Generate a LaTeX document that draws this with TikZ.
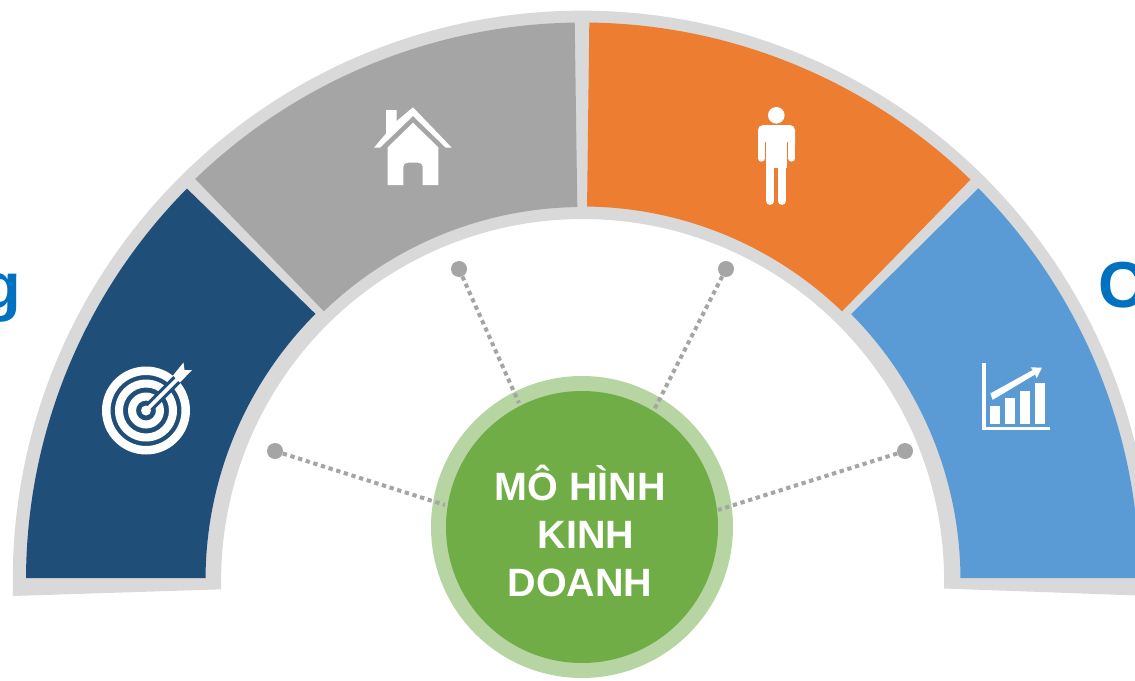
\documentclass[tikz,border=0pt]{standalone}
\usepackage{fontspec}
\setmainfont{Liberation Sans}
\usetikzlibrary{calc}
\definecolor{ringgrey}{HTML}{D9D9D9}
\definecolor{navy}{HTML}{1F4E79}
\definecolor{midgrey}{HTML}{A5A5A5}
\definecolor{orangeseg}{HTML}{ED7D31}
\definecolor{skyseg}{HTML}{5B9BD5}
\definecolor{hubgreen}{HTML}{70AD47}
\definecolor{hubring}{HTML}{B7D5A3}
\definecolor{lettercol}{HTML}{0070C0}
\tikzset{
  x=1pt,y=-1pt,
  dotnode/.style={circle,fill=midgrey,minimum size=16pt,inner sep=0pt},
  dotlink/.style={draw=midgrey,line width=4pt,dash pattern=on 4.3pt off 3.7pt},
  hubtext/.style={inner sep=0pt,anchor=base,text=white,font=\bfseries\fontsize{39.5}{48}\selectfont},
  bigletter/.style={inner sep=0pt,font=\bfseries\fontsize{65}{65}\selectfont,text=lettercol}
}
\newcommand{\seg}[7]{% colour, outer start angle, outer end, outer r, inner start, inner end, inner r
  \fill[#1] ($(582.5,580)+(#2:#4 and -#4)$) arc[start angle=-#2,end angle=-#3,radius=#4]
    -- ($(582.5,580)+(#6:#7 and -#7)$) arc[start angle=-#6,end angle=-#5,radius=#7] -- cycle;}
\begin{document}
\begin{tikzpicture}
\useasboundingbox (0,0) rectangle (1135,680);
\clip (0,0) rectangle (1135,680);
% backdrop
\fill[ringgrey] (13,596) arc[start angle=-181.6,end angle=1.6,radius=569.5]
  -- (944,588.5) arc[start angle=1.27,end angle=-181.4,radius=361.5] -- cycle;
% segments
\seg{navy}{179.8}{135.3}{556.5}{179.7}{135.1}{377}
\seg{midgrey}{134}{90.8}{557.5}{133.9}{90.8}{373}
\seg{orangeseg}{89.3}{45.9}{557.5}{89.3}{46}{373.5}
\seg{skyseg}{44.7}{0.2}{557}{44.7}{0.3}{378}
% letters
\node[bigletter,anchor=base east] (lg) at (21,308.5) {g};
\node[bigletter,anchor=base west] (lc) at (1098,307) {C};
% hub ring
\node[circle,fill=hubring,minimum size=302pt,inner sep=0pt] (ring) at (582,527) {};
% dots and connectors
\node[dotnode] (d1) at (275,451) {};
\node[dotnode] (d2) at (459,269) {};
\node[dotnode] (d3) at (726,269) {};
\node[dotnode] (d4) at (905,451) {};
\coordinate (h1) at (445,505);
\coordinate (h2) at (519,403);
\coordinate (h3) at (654,410);
\coordinate (h4) at (718,510);
\draw[dotlink] (d1) -- (h1);
\draw[dotlink] (d2) -- (h2);
\draw[dotlink] (d3) -- (h3);
\draw[dotlink] (d4) -- (h4);
% hub
\node[circle,fill=hubgreen,minimum size=272pt,inner sep=0pt] (hub) at (582,527) {};
\node[hubtext] (t1) at (580,500) {MÔ HÌNH};
\node[hubtext] (t2) at (586,548) {KINH};
\node[hubtext] (t3) at (580,596) {DOANH};
% target icon
\begin{scope}[shift={(146,410.5)}]
  \fill[white,even odd rule] (0,0) circle[radius=44] (0,0) circle[radius=35.5]
     (0,0) circle[radius=31] (0,0) circle[radius=23]
     (0,0) circle[radius=18] (0,0) circle[radius=10]
     (0,0) circle[radius=5];
  \draw[navy,line width=10pt] (5,-5) -- (40,-40);
  \draw[white,line width=3.8pt] (0,0) -- (33,-33);
  \fill[white] (27,-35) -- (37.5,-48) -- (38.5,-40.5) -- (46,-40.5) -- (34,-28) -- cycle;
\end{scope}
% house icon
\begin{scope}[shift={(350,90)}]
  \fill[white] (24,57.7) -- (36,43.5) -- (36,20) -- (46.7,20) -- (46.7,31) -- (63,17.3)
     -- (101.7,57.7) -- (95.7,57.7) -- (63,26) -- (30,57.7) -- cycle;
  \fill[white] (63,32.7) -- (88.3,57.3) -- (88.3,95) -- (72.7,95) -- (72.7,77)
     .. controls (72.7,74) and (71,72.7) .. (68,72.7) -- (58,72.7)
     .. controls (55,72.7) and (53.3,74) .. (53.3,77) -- (53.3,95) -- (37.7,95) -- (37.7,57.3) -- cycle;
\end{scope}
% person icon
\begin{scope}[shift={(730,90)}]
  \fill[white] (46.3,25.3) circle[radius=8.3];
  \fill[white,rounded corners=5pt] (28,60) -- (28,35) -- (65,35) -- (65,60) -- cycle;
  \fill[white] (36,50) rectangle (56.5,78);
  \draw[orangeseg,line width=1.1pt] (35.3,52) -- (35.3,75);
  \draw[orangeseg,line width=1.1pt] (57.2,52) -- (57.2,75);
  \draw[white,line width=6.8pt,line cap=round] (31.4,50) -- (31.4,68.3);
  \draw[white,line width=7pt,line cap=round] (61.5,50) -- (61.5,68.2);
  \draw[white,line width=8.3pt,line cap=round] (40.2,70) -- (40.2,110.8);
  \draw[white,line width=8.3pt,line cap=round] (51.9,70) -- (51.9,110.8);
\end{scope}
% chart icon
\begin{scope}
  \fill[white] (982.3,363.3) rectangle (985.7,430.3);
  \fill[white] (982.3,427) rectangle (1049.7,430.3);
  \fill[white] (990.3,405.7) rectangle (1000,424);
  \fill[white] (1005.3,398.3) rectangle (1015,424);
  \fill[white] (1020.3,390.7) rectangle (1030,424);
  \fill[white] (1035.3,383.3) rectangle (1045.3,424);
  \fill[white] (990.3,393.5) -- (1032.7,370) -- (1030.7,367.3) -- (1042,367.7) -- (1036.7,378.3) -- (1035,374.5) -- (992.7,399.8) -- cycle;
\end{scope}
\end{tikzpicture}
\end{document}
